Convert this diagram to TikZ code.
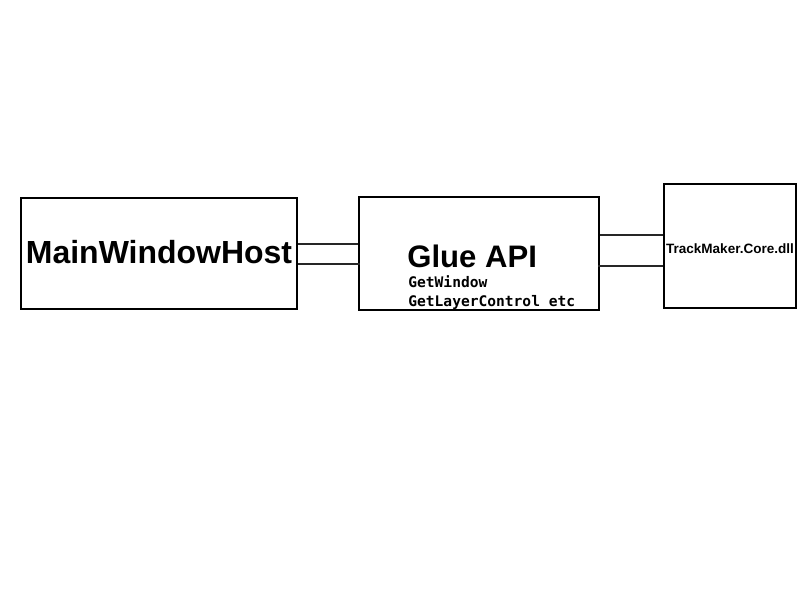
\documentclass[tikz,border=0pt]{standalone}
\usepackage{fontspec}
\setmainfont{Liberation Sans}
\setmonofont{DejaVu Sans Mono}
\usepackage{tikz}
\usetikzlibrary{positioning}

\tikzset{
	block/.style={draw=black,line width=1.1pt,rectangle,inner sep=0pt},
	link/.style={draw=black!85,line width=1.1pt},
	title/.style={font=\fontsize{18.2pt}{20pt}\selectfont\bfseries,inner sep=0pt},
	call/.style={font=\fontsize{8.3pt}{10pt}\selectfont\ttfamily\bfseries,inner sep=0pt,anchor=base west}
}

\begin{document}
\begin{tikzpicture}[x=0.02cm,y=-0.02cm]
			\useasboundingbox (0,0) rectangle (800,600);
			\node[block,minimum width=5.52cm,minimum height=2.22cm] (host) at (159,253.5) {};
			\node[block,minimum width=4.8cm,minimum height=2.26cm] (glue) at (479,253.5) {};
			\node[block,minimum width=2.64cm,minimum height=2.48cm] (core) at (730,246) {};
			\node[title] (hostlabel) at (159,252) {MainWindowHost};
			\node[title,font=\fontsize{17.7pt}{20pt}\selectfont\bfseries,anchor=base west] (gluelabel) at (407,267) {Glue API};
			\node[call] (getwindow) at (408,287) {GetWindow};
			\node[call] (getlayer) at (408,306) {GetLayerControl etc};
			\node[font=\fontsize{7.7pt}{9pt}\selectfont\bfseries,inner sep=0pt] (corelabel) at (730,249) {TrackMaker.Core.dll};
			% two links on each side
			\draw[link] ([yshift=0.19cm]host.east) -- ([yshift=0.19cm]host.east -| glue.west);
			\draw[link] ([yshift=-0.21cm]host.east) -- ([yshift=-0.21cm,xshift=0.04cm]host.east -| glue.west);
			\draw[link] ([yshift=0.37cm]glue.east) -- ([yshift=0.37cm]glue.east -| core.west);
			\draw[link] ([yshift=-0.25cm,xshift=-0.04cm]glue.east) -- ([yshift=-0.25cm]glue.east -| core.west);
\end{tikzpicture}
\end{document}
